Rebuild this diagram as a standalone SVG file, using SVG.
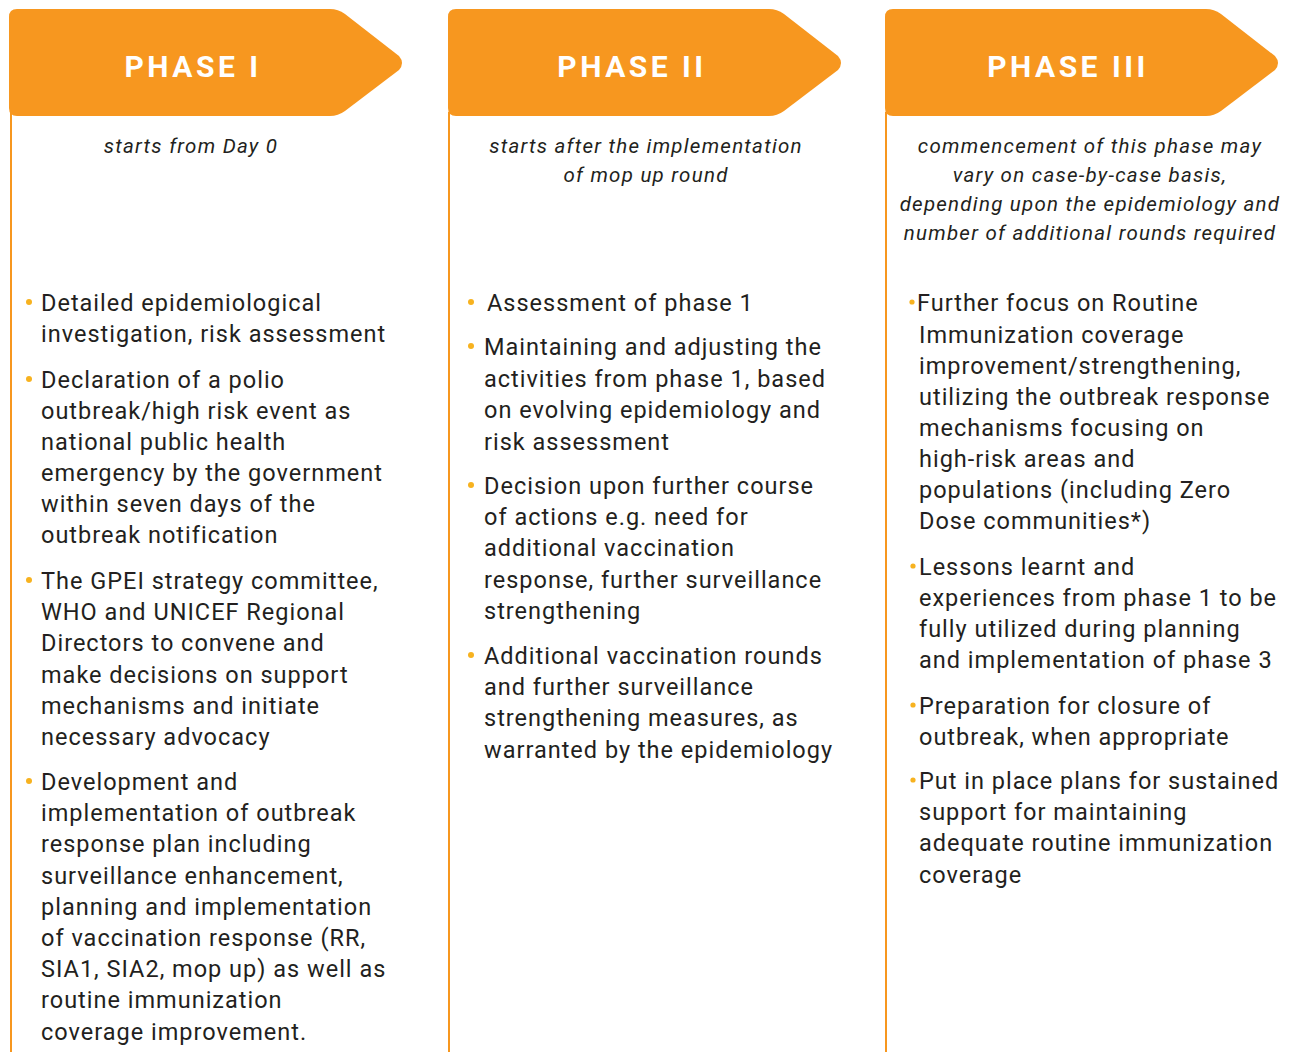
<svg xmlns="http://www.w3.org/2000/svg" width="1289" height="1052" viewBox="0 0 1289 1052">
<defs>
<style>
.hdr{fill:#F7971F}
.vl{stroke:#F7971F;stroke-width:2;fill:none}
.ht{font-family:Roboto,"Liberation Sans",sans-serif;font-weight:bold;font-size:30px;fill:#fff;letter-spacing:3.5px;text-anchor:middle}
.sub{font-family:Roboto,"Liberation Sans",sans-serif;font-style:italic;font-size:20.5px;fill:#231f20;text-anchor:middle;letter-spacing:1.25px}
.bt{font-family:Roboto,"Liberation Sans",sans-serif;font-size:23.5px;fill:#231f20;letter-spacing:1px}
.dot{fill:#F7B21F}
</style>
<path id="arrow" d="M17,9 H330 Q338,9 345,14 L399,56 Q405,63 399,70 L345,111 Q338,116 330,116 H17 Q9,116 9,108 V17 Q9,9 17,9 Z"/>
</defs>
<g id="connectors">
<line class="vl" x1="11" y1="112" x2="11" y2="1052"/>
<line class="vl" x1="449" y1="112" x2="449" y2="1052"/>
<line class="vl" x1="886" y1="112" x2="886" y2="1052"/>
</g>
<g id="phase1">
<use href="#arrow" class="hdr"/>
<text class="ht" x="193" y="77">PHASE I</text>
<text class="sub" x="191" y="153">starts from Day 0</text>
<g class="bt">
<circle class="dot" cx="29" cy="302" r="3"/>
<text x="41" y="311">Detailed epidemiological</text>
<text x="41" y="342">investigation, risk assessment</text>
<circle class="dot" cx="29" cy="379" r="3"/>
<text x="41" y="388">Declaration of a polio</text>
<text x="41" y="419">outbreak/high risk event as</text>
<text x="41" y="450">national public health</text>
<text x="41" y="481">emergency by the government</text>
<text x="41" y="512">within seven days of the</text>
<text x="41" y="543">outbreak notification</text>
<circle class="dot" cx="29" cy="580" r="3"/>
<text x="41" y="589">The GPEI strategy committee,</text>
<text x="41" y="620">WHO and UNICEF Regional</text>
<text x="41" y="651">Directors to convene and</text>
<text x="41" y="683">make decisions on support</text>
<text x="41" y="714">mechanisms and initiate</text>
<text x="41" y="745">necessary advocacy</text>
<circle class="dot" cx="29" cy="781" r="3"/>
<text x="41" y="790">Development and</text>
<text x="41" y="821">implementation of outbreak</text>
<text x="41" y="852">response plan including</text>
<text x="41" y="884">surveillance enhancement,</text>
<text x="41" y="915">planning and implementation</text>
<text x="41" y="946">of vaccination response (RR,</text>
<text x="41" y="977">SIA1, SIA2, mop up) as well as</text>
<text x="41" y="1008">routine immunization</text>
<text x="41" y="1040">coverage improvement.</text>
</g>
</g>
<g id="phase2">
<use href="#arrow" class="hdr" x="439"/>
<text class="ht" x="632" y="77">PHASE II</text>
<text class="sub" x="646" y="153">starts after the implementation</text>
<text class="sub" x="646" y="182">of mop up round</text>
<g class="bt">
<circle class="dot" cx="471" cy="302" r="3"/>
<text x="487" y="311">Assessment of phase 1</text>
<circle class="dot" cx="471" cy="346" r="3"/>
<text x="484" y="355">Maintaining and adjusting the</text>
<text x="484" y="387">activities from phase 1, based</text>
<text x="484" y="418">on evolving epidemiology and</text>
<text x="484" y="450">risk assessment</text>
<circle class="dot" cx="471" cy="485" r="3"/>
<text x="484" y="494">Decision upon further course</text>
<text x="484" y="525">of actions e.g. need for</text>
<text x="484" y="556">additional vaccination</text>
<text x="484" y="588">response, further surveillance</text>
<text x="484" y="619">strengthening</text>
<circle class="dot" cx="471" cy="655" r="3"/>
<text x="484" y="664">Additional vaccination rounds</text>
<text x="484" y="695">and further surveillance</text>
<text x="484" y="726">strengthening measures, as</text>
<text x="484" y="758">warranted by the epidemiology</text>
</g>
</g>
<g id="phase3">
<use href="#arrow" class="hdr" x="876"/>
<text class="ht" x="1068" y="77">PHASE III</text>
<text class="sub" x="1090" y="153">commencement of this phase may</text>
<text class="sub" x="1090" y="182">vary on case-by-case basis,</text>
<text class="sub" x="1090" y="211">depending upon the epidemiology and</text>
<text class="sub" x="1090" y="240">number of additional rounds required</text>
<g class="bt">
<circle class="dot" cx="912" cy="302" r="2.6"/>
<text x="917" y="311">Further focus on Routine</text>
<text x="919" y="343">Immunization coverage</text>
<text x="919" y="374">improvement/strengthening,</text>
<text x="919" y="405">utilizing the outbreak response</text>
<text x="919" y="436">mechanisms focusing on</text>
<text x="919" y="467">high-risk areas and</text>
<text x="919" y="498">populations (including Zero</text>
<text x="919" y="529">Dose communities*)</text>
<circle class="dot" cx="913" cy="566" r="2.6"/>
<text x="919" y="575">Lessons learnt and</text>
<text x="919" y="606">experiences from phase 1 to be</text>
<text x="919" y="637">fully utilized during planning</text>
<text x="919" y="668">and implementation of phase 3</text>
<circle class="dot" cx="913" cy="705" r="2.6"/>
<text x="919" y="714">Preparation for closure of</text>
<text x="919" y="745">outbreak, when appropriate</text>
<circle class="dot" cx="913" cy="780" r="2.6"/>
<text x="919" y="789">Put in place plans for sustained</text>
<text x="919" y="820">support for maintaining</text>
<text x="919" y="851">adequate routine immunization</text>
<text x="919" y="883">coverage</text>
</g>
</g>
</svg>
